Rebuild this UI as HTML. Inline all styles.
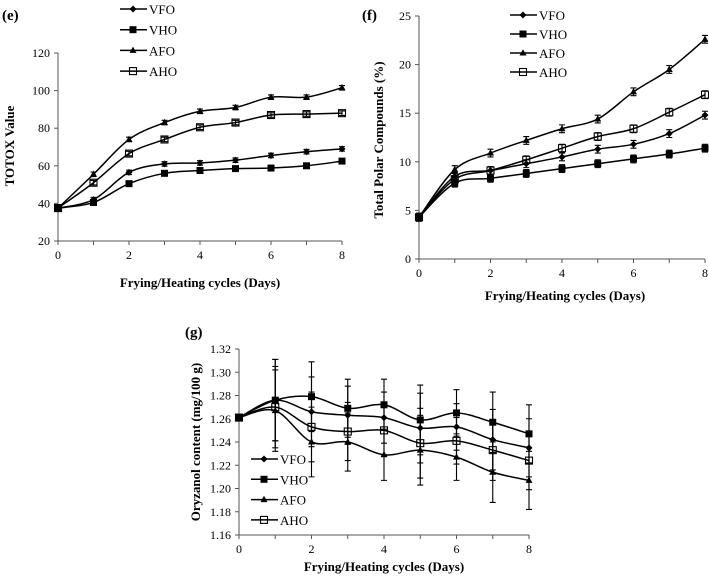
<!DOCTYPE html>
<html><head><meta charset="utf-8"><style>
body{margin:0;background:#fff}
svg{display:block}
svg text{font-family:"Liberation Serif","Times New Roman",serif}
</style></head><body>
<svg id="c" width="709" height="576" viewBox="0 0 709 576"></svg>
<script>
const days=[0,1,2,3,4,5,6,7,8];
const names=["VFO","VHO","AFO","AHO"];
const markers=["diamond","square","triangle","opensquare"];
const eTicks=[20,40,60,80,100,120];
const eVFO=[37.5,42,56.5,61,61.5,63,65.5,67.5,69];
const eVHO=[37.5,40.5,50.5,56,57.5,58.5,58.8,60,62.5];
const eAFO=[37.5,55.5,74,83,89,91,96.5,96.5,101.5];
const eAHO=[37.5,51,66.5,74,80.5,83,87,87.5,88];
const fTicks=[0,5,10,15,20,25];
const fVFO=[4.3,8.5,9.1,9.8,10.5,11.3,11.8,12.9,14.8];
const fVHO=[4.3,7.8,8.3,8.8,9.3,9.8,10.3,10.8,11.4];
const fAFO=[4.3,9.2,10.9,12.2,13.4,14.4,17.2,19.5,22.6];
const fAHO=[4.3,8.2,9.1,10.2,11.4,12.6,13.4,15.1,16.9];
const gTicks=["1.16","1.18","1.20","1.22","1.24","1.26","1.28","1.30","1.32"];
const gVFO=[1.261,1.276,1.266,1.263,1.261,1.252,1.253,1.242,1.235];
const gVHO=[1.261,1.276,1.279,1.269,1.272,1.259,1.265,1.257,1.247];
const gAFO=[1.261,1.267,1.240,1.240,1.229,1.233,1.227,1.214,1.207];
const gAHO=[1.261,1.270,1.253,1.249,1.250,1.239,1.241,1.233,1.224];
const gErr=[0,0.035,0.03,0.025,0.022,0.03,0.02,0.026,0.025];
const xTicks=[0,2,4,6,8];

const svg=document.getElementById('c');
const NS="http://www.w3.org/2000/svg";
function el(t,a,p){const e=document.createElementNS(NS,t);for(const k in a)e.setAttribute(k,a[k]);(p||svg).appendChild(e);return e;}
function txt(s,a,p){a['font-family']='Liberation Serif, serif';const e=el('text',a,p);e.textContent=s;return e;}
function smooth(pts){let d=`M${pts[0][0]},${pts[0][1]}`;for(let i=0;i<pts.length-1;i++){const p0=pts[i-1]||pts[i],p1=pts[i],p2=pts[i+1],p3=pts[i+2]||p2;const t=6;d+=` C${p1[0]+(p2[0]-p0[0])/t},${p1[1]+(p2[1]-p0[1])/t} ${p2[0]-(p3[0]-p1[0])/t},${p2[1]-(p3[1]-p1[1])/t} ${p2[0]},${p2[1]}`;}return d;}
function marker(type,x,y,g){
  if(type==="diamond")return el('polygon',{points:`${x},${y-3.5} ${x+3.5},${y} ${x},${y+3.5} ${x-3.5},${y}`,fill:'#000'},g);
  if(type==="square")return el('rect',{x:x-3.5,y:y-3.5,width:7,height:7,fill:'#000'},g);
  if(type==="triangle")return el('polygon',{points:`${x},${y-3.8} ${x+3.5},${y+2.5} ${x-3.5},${y+2.5}`,fill:'#000'},g);
  return el('rect',{x:x-3.5,y:y-3.5,width:7,height:7,fill:'none',stroke:'#000','stroke-width':1.1},g);
}
function chart(cfg){
  const g=el('g',{});
  
  
  const X=v=>cfg.x0+(v-0)/8*(cfg.x1-cfg.x0);
  const Y=v=>cfg.yb+(v-cfg.ymin)/(cfg.ymax-cfg.ymin)*(cfg.yt-cfg.yb);
  const ax=el('path',{d:`M${cfg.x0},${cfg.yt} V${cfg.yb} H${cfg.x1}`,stroke:'#555',fill:'none','stroke-width':1},g);
  
  cfg.yticks.forEach(t=>{const y=Y(+t);el('line',{x1:cfg.x0-4,x2:cfg.x0,y1:y,y2:y,stroke:'#555'},g);
    const l=txt(String(t),{x:cfg.x0-8,y:y+4,'text-anchor':'end','font-size':12},g);});
  for(let d=0;d<=8;d++){el('line',{x1:X(d),x2:X(d),y1:cfg.yb,y2:cfg.yb+4,stroke:'#555'},g);}
  xTicks.forEach(t=>{const l=txt(String(t),{x:X(t),y:cfg.yb+18,'text-anchor':'middle','font-size':12},g);});
  cfg.series.forEach((s,i)=>{
    const sg=el('g',{},g);
    const pts=s.map((v,j)=>[X(days[j]),Y(v)]);
    el('path',{d:smooth(pts),stroke:'#000','stroke-width':1.5,fill:'none'},sg);
    pts.forEach(p=>marker(markers[i],p[0],p[1],sg));
    s.forEach((v,j)=>{const e=cfg.err?cfg.err[j]:cfg.errs;if(e>0){const x=X(days[j]);el('path',{d:`M${x},${Y(v-e)} V${Y(v+e)} M${x-3},${Y(v-e)} h6 M${x-3},${Y(v+e)} h6`,stroke:'#000','stroke-width':1.1},sg);}});
  });
  names.forEach((n,i)=>{const lg=el('g',{},g);
    const y=cfg.ly+i*cfg.ld;el('line',{x1:cfg.lx,x2:cfg.lx+27,y1:y,y2:y,stroke:'#000','stroke-width':1.5},lg);marker(markers[i],cfg.lx+13,y,lg);
    txt(n,{x:cfg.lx+29,y:y+5,'font-size':13},lg);});
  const xt=txt("Frying/Heating cycles (Days)",{x:cfg.xtx,y:cfg.xty,'text-anchor':'middle','font-size':13,'font-weight':'bold'},g);
  
  const yt=txt(cfg.ytitle,{x:0,y:0,transform:`translate(${cfg.ytx},${cfg.yty}) rotate(-90)`,'text-anchor':'middle','font-size':13,'font-weight':'bold'},g);
  
  const pl=txt(cfg.label,{x:cfg.plx,y:cfg.ply,'font-size':15,'font-weight':'bold'},g);
  
}
chart({name:'chart-e-totox',x0:58,x1:342,yb:241,yt:53,ymin:20,ymax:120,yticks:eTicks,series:[eVFO,eVHO,eAFO,eAHO],errs:1.2,
  lx:120,ly:9,ld:20.7,xtx:200,xty:287,ytitle:"TOTOX Value",ytx:14,yty:146,label:"(e)",plx:2,ply:20});
chart({name:'chart-f-polar',x0:419,x1:705,yb:259,yt:16,ymin:0,ymax:25,yticks:fTicks,series:[fVFO,fVHO,fAFO,fAHO],errs:0.4,
  lx:510,ly:15,ld:19,xtx:565,xty:300,ytitle:"Total Polar Compounds (%)",ytx:383,yty:140,label:"(f)",plx:362,ply:20});
chart({name:'chart-g-oryzanol',x0:239,x1:529,yb:535,yt:349,ymin:1.16,ymax:1.32,yticks:gTicks,series:[gVFO,gVHO,gAFO,gAHO],err:gErr,
  lx:251,ly:459,ld:20.3,xtx:384,xty:571,ytitle:"Oryzanol content (mg/100 g)",ytx:200,yty:442,label:"(g)",plx:185,ply:337});
</script>
</body></html>
